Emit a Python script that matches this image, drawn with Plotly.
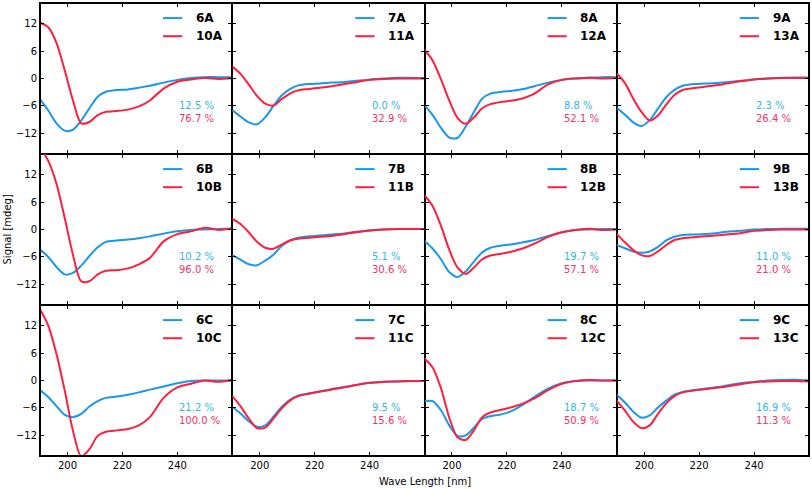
import plotly.graph_objects as go
from plotly.subplots import make_subplots

wavelength = [190, 193, 196, 199, 202, 205, 208, 211, 214, 218, 222, 226, 230, 235, 240, 245, 250, 255, 260]

# Row A
s6A = [-4.5, -7.0, -9.8, -11.4, -11.2, -9.2, -6.5, -4.0, -2.9, -2.5, -2.4, -2.0, -1.6, -0.9, -0.3, 0.1, 0.3, 0.3, 0.3]
s10A = [12.2, 11.2, 7.8, 1.8, -4.8, -9.8, -9.5, -8.0, -7.3, -7.1, -6.8, -6.1, -4.8, -2.2, -0.7, -0.2, 0.1, -0.1, 0.1]
s7A = [-6.9, -8.3, -9.6, -10.0, -8.5, -6.0, -3.7, -2.3, -1.5, -1.2, -1.1, -0.9, -0.8, -0.5, -0.2, 0.0, 0.15, 0.15, 0.1]
s11A = [2.6, 1.0, -1.3, -3.8, -5.5, -5.9, -4.5, -3.3, -2.6, -2.3, -2.0, -1.7, -1.3, -0.8, -0.3, -0.1, 0.0, 0.0, 0.0]
s8A = [-5.8, -8.0, -10.8, -12.9, -13.0, -10.5, -7.3, -4.4, -3.3, -2.9, -2.7, -2.3, -1.7, -0.9, -0.3, 0.0, 0.2, 0.3, 0.3]
s12A = [6.3, 3.9, -0.2, -4.8, -8.6, -9.9, -8.5, -6.5, -5.6, -5.1, -4.8, -4.3, -3.3, -1.3, -0.3, 0.0, 0.1, 0.0, 0.1]
s9A = [-6.4, -7.9, -9.6, -10.4, -9.1, -6.6, -4.1, -2.5, -1.6, -1.2, -1.1, -1.0, -0.8, -0.5, -0.2, 0.0, 0.15, 0.2, 0.2]
s13A = [1.1, -1.0, -4.4, -7.3, -9.2, -8.1, -5.7, -3.6, -2.5, -2.1, -1.8, -1.5, -1.1, -0.6, -0.2, 0.0, 0.1, 0.1, 0.1]

# Row B
s6B = [-4.4, -6.0, -8.2, -9.8, -9.5, -7.9, -5.8, -3.9, -2.7, -2.4, -2.2, -1.9, -1.5, -0.9, -0.4, -0.1, 0.0, 0.1, 0.2]
s10B = [18.0, 15.0, 10.0, 2.5, -5.5, -11.3, -11.3, -9.8, -9.0, -8.9, -8.5, -7.6, -6.2, -2.6, -1.0, -0.4, 0.4, -0.1, 0.2]
s7B = [-5.6, -6.6, -7.6, -7.8, -6.8, -5.5, -3.6, -2.4, -1.8, -1.5, -1.3, -1.1, -0.9, -0.5, -0.2, 0.0, 0.1, 0.1, 0.1]
s11B = [2.3, 1.2, -0.6, -2.7, -4.0, -4.2, -3.3, -2.4, -2.0, -1.8, -1.6, -1.4, -1.1, -0.6, -0.2, 0.0, 0.1, 0.1, 0.1]
s8B = [-2.5, -4.2, -6.5, -9.3, -10.4, -9.2, -7.0, -5.0, -4.0, -3.5, -3.2, -2.8, -2.3, -1.4, -0.6, -0.1, 0.0, 0.1, 0.1]
s12B = [7.5, 5.1, 0.8, -4.4, -8.3, -9.7, -8.3, -6.5, -5.7, -5.3, -4.8, -4.1, -3.1, -1.6, -0.6, -0.1, 0.15, -0.1, 0.0]
s9B = [-3.4, -4.1, -4.8, -5.1, -4.8, -3.8, -2.4, -1.6, -1.2, -1.1, -1.0, -0.8, -0.5, -0.3, 0.0, 0.1, 0.15, 0.15, 0.15]
s13B = [-1.0, -2.8, -4.5, -5.6, -5.8, -4.8, -3.4, -2.3, -1.9, -1.7, -1.5, -1.3, -1.1, -0.8, -0.3, -0.1, 0.0, 0.0, 0.0]

# Row C
s6C = [-2.1, -3.6, -5.6, -7.5, -8.0, -7.3, -5.7, -4.5, -3.8, -3.5, -3.1, -2.6, -2.0, -1.3, -0.6, -0.1, 0.0, 0.0, 0.0]
s10C = [15.6, 12.0, 5.8, -2.2, -11.0, -16.6, -15.0, -12.1, -11.2, -10.9, -10.6, -9.8, -8.0, -3.8, -1.5, -0.7, 0.0, -0.3, 0.1]
s7C = [-5.8, -7.2, -8.9, -10.1, -9.8, -7.9, -5.8, -4.2, -3.3, -2.8, -2.4, -1.9, -1.5, -1.0, -0.5, -0.3, -0.2, -0.1, -0.1]
s11C = [-3.4, -5.6, -8.3, -10.4, -10.3, -8.3, -6.1, -4.4, -3.4, -2.9, -2.4, -2.0, -1.6, -1.0, -0.5, -0.3, -0.2, -0.1, -0.1]
s8C = [-4.5, -4.5, -6.5, -9.8, -12.1, -12.0, -10.3, -8.4, -7.8, -7.4, -6.6, -5.2, -3.6, -1.8, -0.6, -0.1, 0.0, 0.0, 0.0]
s12C = [4.8, 2.8, -1.7, -8.1, -12.4, -13.0, -10.9, -8.0, -7.0, -6.4, -5.8, -5.0, -3.9, -2.1, -0.7, -0.1, 0.1, 0.0, 0.0]
s9C = [-3.1, -4.8, -6.8, -8.1, -7.6, -5.9, -4.4, -3.1, -2.5, -2.1, -1.8, -1.5, -1.1, -0.6, -0.3, 0.0, 0.1, 0.15, 0.0]
s13C = [-4.4, -6.6, -9.0, -10.4, -9.8, -7.3, -5.0, -3.4, -2.6, -2.2, -1.9, -1.6, -1.3, -0.8, -0.4, -0.2, -0.1, -0.1, -0.2]

blue_names = ["6A", "7A", "8A", "9A", "6B", "7B", "8B", "9B", "6C", "7C", "8C", "9C"]
red_names = ["10A", "11A", "12A", "13A", "10B", "11B", "12B", "13B", "10C", "11C", "12C", "13C"]
blue_series = [s6A, s7A, s8A, s9A, s6B, s7B, s8B, s9B, s6C, s7C, s8C, s9C]
red_series = [s10A, s11A, s12A, s13A, s10B, s11B, s12B, s13B, s10C, s11C, s12C, s13C]
blue_pct = ["12.5 %", "0.0 %", "8.8 %", "2.3 %", "10.2 %", "5.1 %", "19.7 %", "11.0 %", "21.2 %", "9.5 %", "18.7 %", "16.9 %"]
red_pct = ["76.7 %", "32.9 %", "52.1 %", "26.4 %", "96.0 %", "30.6 %", "57.1 %", "21.0 %", "100.0 %", "15.6 %", "50.9 %", "11.3 %"]

x_ticks = [200, 220, 240]
y_ticks = [-12, -6, 0, 6, 12]

BLUE = "#1a97e8"
RED = "#ff1f3d"
BLUE_TXT = "#33b5ec"
RED_TXT = "#f0336a"
FONT = "DejaVu Sans"

fig = make_subplots(rows=3, cols=4, shared_xaxes=True, shared_yaxes=True,
                    horizontal_spacing=0, vertical_spacing=0)

annotations = []
shapes = []
for i in range(12):
    r, c = i // 4 + 1, i % 4 + 1
    n = "" if i == 0 else str(i + 1)
    fig.add_trace(go.Scatter(x=wavelength, y=blue_series[i], mode="lines",
                             line=dict(color=BLUE, width=2, shape="spline", smoothing=0.8),
                             showlegend=False, hoverinfo="skip"), row=r, col=c)
    fig.add_trace(go.Scatter(x=wavelength, y=red_series[i], mode="lines",
                             line=dict(color=RED, width=2, shape="spline", smoothing=0.8),
                             showlegend=False, hoverinfo="skip"), row=r, col=c)
    xr, yr = f"x{n} domain", f"y{n} domain"
    for k, (name, col, yy) in enumerate([(blue_names[i], BLUE, 0.90), (red_names[i], RED, 0.78)]):
        shapes.append(dict(type="line", xref=xr, yref=yr, x0=0.64, x1=0.74, y0=yy, y1=yy,
                           line=dict(color=col, width=2)))
        annotations.append(dict(xref=xr, yref=yr, x=0.80, y=yy, text=f"<b>{name}</b>",
                                showarrow=False, xanchor="left", yanchor="middle",
                                font=dict(family=FONT, size=12, color="black")))
    annotations.append(dict(xref=xr, yref=yr, x=0.715, y=0.32, text=blue_pct[i], showarrow=False,
                            xanchor="left", yanchor="middle", font=dict(family=FONT, size=10, color=BLUE_TXT)))
    annotations.append(dict(xref=xr, yref=yr, x=0.715, y=0.233, text=red_pct[i], showarrow=False,
                            xanchor="left", yanchor="middle", font=dict(family=FONT, size=10, color=RED_TXT)))

annotations.append(dict(xref="paper", yref="paper", x=0.5, y=0, yshift=-25, text="Wave Length [nm]",
                        showarrow=False, xanchor="center", yanchor="middle",
                        font=dict(family=FONT, size=10, color="black")))
annotations.append(dict(xref="paper", yref="paper", x=0, xshift=-33, y=0.5, text="Signal [mdeg]",
                        textangle=-90, showarrow=False, xanchor="center", yanchor="middle",
                        font=dict(family=FONT, size=10, color="black")))

# outer frame
shapes.append(dict(type="rect", xref="paper", yref="paper", x0=0, x1=1, y0=0, y1=1,
                   line=dict(color="black", width=2), fillcolor="rgba(0,0,0,0)", layer="above"))

fig.update_xaxes(range=[190, 260], tickvals=x_ticks, ticks="inside", ticklen=4, tickwidth=1,
                 tickcolor="black", showline=True, linecolor="black", linewidth=1, mirror="ticks",
                 showgrid=False, zeroline=False, tickfont=dict(family=FONT, size=10, color="black"))
fig.update_yaxes(range=[-16.5, 16.5], tickvals=y_ticks, ticks="inside", ticklen=4, tickwidth=1,
                 tickcolor="black", showline=True, linecolor="black", linewidth=1, mirror="ticks",
                 showgrid=False, zeroline=False, tickfont=dict(family=FONT, size=10, color="black"))

fig.update_layout(width=812, height=489, margin=dict(l=40, r=3, t=3, b=33),
                  plot_bgcolor="white", paper_bgcolor="white",
                  annotations=annotations, shapes=shapes, showlegend=False)

fig.write_html("out.html", config={"displayModeBar": False},
               post_script="document.body.style.margin='0';document.body.style.overflow='hidden';")
